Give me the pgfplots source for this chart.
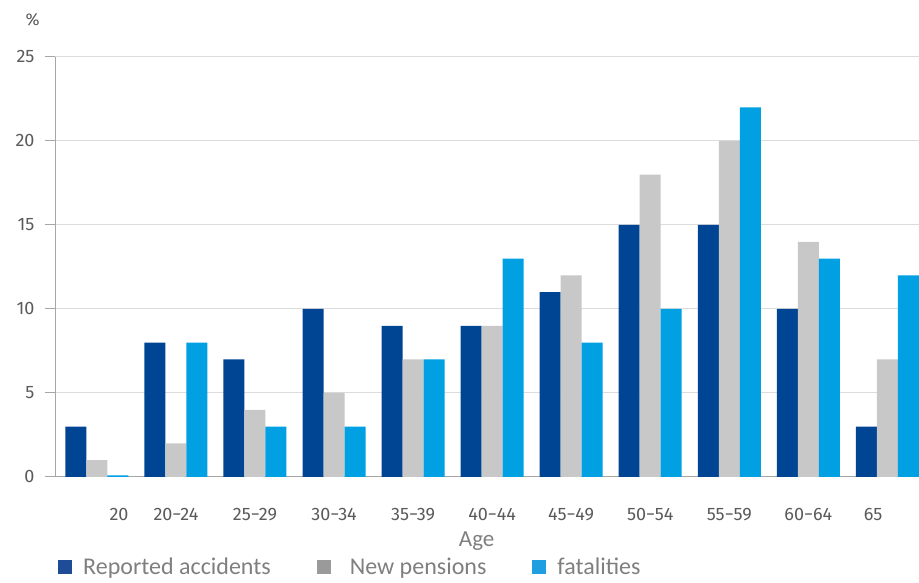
\documentclass[border=0pt]{standalone}
\usepackage{fontspec}
\setmainfont{Carlito}
\newfontfamily\tickfont{Fira Sans}
\usepackage{pgfplots}
\pgfplotsset{compat=1.18}

\definecolor{accBlue}{HTML}{004494}
\definecolor{penGrey}{HTML}{C8C8C8}
\definecolor{fatBlue}{HTML}{00A0E3}
\definecolor{legGrey}{HTML}{9A9A9A}
\definecolor{legBlue}{HTML}{1F9EE0}
\definecolor{legDark}{HTML}{1E4C96}
\definecolor{labGrey}{HTML}{5A5A5A}
\definecolor{txtGrey}{HTML}{7F7F7F}
\definecolor{gridGrey}{HTML}{DCDCDC}
\definecolor{axGrey}{HTML}{A6A6A6}

\begin{document}
\begin{tikzpicture}
\path[use as bounding box] (0,0) rectangle (919pt,583pt);
\begin{axis}[
    at={(55pt,106pt)}, anchor=south west,
    scale only axis,
    width=864pt, height=420pt,
    xmin=-0.53, xmax=10.4,
    ymin=0, ymax=25,
    ybar=0pt, bar width=21pt,
    axis x line*=bottom, axis y line*=left,
    x axis line style={draw=axGrey, line width=1pt},
    y axis line style={draw=axGrey, line width=1pt},
    ytick={0,5,10,15,20,25},
    ymajorgrids, grid style={draw=gridGrey, line width=1pt},
    ytick style={draw=axGrey, line width=1pt},
    major tick length=10pt, tick align=outside,
    yticklabel style={font=\tickfont\fontsize{18}{18}\selectfont, text=labGrey, xshift=-7pt},
    /pgf/number format/assume math mode=true,
    xtick={0.28,1,2,3,4,5,6,7,8,9,9.82},
    xticklabels={20,20−24,25−29,30−34,35−39,40−44,45−49,50−54,55−59,60−64,65},
    xtick style={draw=none},
    xticklabel style={font=\tickfont\fontsize{18}{18}\selectfont, text=labGrey, yshift=-18pt},
    legend columns=3,
    legend style={draw=none, fill=none, inner sep=0pt,
        at={(axis description cs:0.0035,-0.214)}, anchor=west,
        font=\fontsize{24}{24}\selectfont, text=txtGrey,
        /tikz/every odd column/.append style={column sep=9pt},
        /tikz/every even column/.append style={column sep=44pt}},
    legend cell align=left,
    clip=false,
]
\addplot[fill=accBlue, draw=none,
    legend image code/.code={\fill[legDark] (0pt,-7pt) rectangle (14pt,7pt);}]
    coordinates {(0,3) (1,8) (2,7) (3,10) (4,9) (5,9) (6,11) (7,15) (8,15) (9,10) (10,3)};
\addlegendentry{Reported accidents}
\addplot[fill=penGrey, draw=none,
    legend image code/.code={\fill[legGrey] (0pt,-7pt) rectangle (14pt,7pt);}]
    coordinates {(0,1) (1,2) (2,4) (3,5) (4,7) (5,9) (6,12) (7,18) (8,20) (9,14) (10,7)};
\addlegendentry{\hspace{8pt}New pensions}
\addplot[fill=fatBlue, draw=none,
    legend image code/.code={\fill[legBlue] (0pt,-7pt) rectangle (14pt,7pt);}]
    coordinates {(0,0.1) (1,8) (2,3) (3,3) (4,7) (5,13) (6,8) (7,10) (8,22) (9,13) (10,12)};
\addlegendentry{fatalities}
\node[font=\fontsize{23}{23}\selectfont, text=txtGrey] at (axis description cs:0.488,-0.152) {Age};
\node[font=\tickfont\fontsize{17}{17}\selectfont, text=labGrey] at (axis description cs:-0.026,1.088) {\%};
\end{axis}
\end{tikzpicture}
\end{document}
